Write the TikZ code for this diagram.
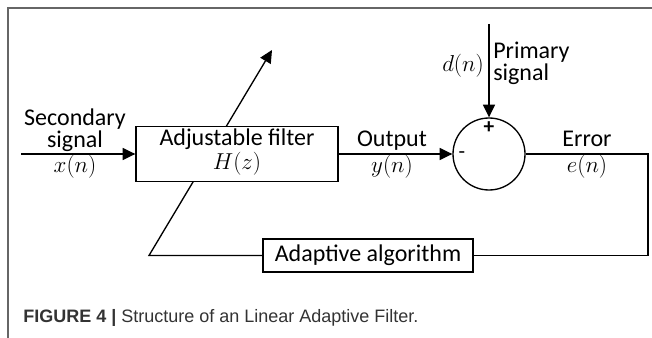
\documentclass[tikz,border=0pt]{standalone}
\usepackage{fontspec}
\setmainfont{Carlito}
\newfontfamily\capfont{Liberation Sans}
\usetikzlibrary{arrows.meta}
\pgfdeclarelayer{background}
\pgfsetlayers{background,main}
\begin{document}
\begin{tikzpicture}[x=0.75pt,y=-0.75pt,
  lbl/.style={font=\fontsize{18}{20}\selectfont, inner sep=0pt},
  mth/.style={font=\fontsize{16.5}{18}\selectfont, inner sep=0pt},
  blk/.style={draw, line width=1pt, fill=white, inner sep=0pt},
  conn/.style={line width=1pt},
  arr/.style={conn, -{Triangle[length=9.5pt,width=9pt]}},
  frame/.style={draw=black!60, line width=1.5pt}]
\useasboundingbox (0,0) rectangle (652,338);
% frame
\draw[frame] (8,338) -- (8,8) -- (652,8);
% blocks
\node[blk, minimum width=151.5pt, minimum height=41.25pt] (filt) at (237,154) {};
\node[blk, circle, minimum size=54pt] (sum) at (489,154) {};
\node[blk, minimum width=157.5pt, minimum height=24.75pt, lbl] (adapt) at (368,255.5) {Adaptive algorithm};
% coordinates
\coordinate (in) at (21,154);
\coordinate (top) at (489,24);
\coordinate (rc1) at (648,154);
\coordinate (rc2) at (648,255.5);
\coordinate (lc) at (149,255.5);
\coordinate (tip) at (272,50);
% connectors
\draw[arr] (in) -- (filt.west);
\draw[arr] (filt.east) -- (sum.west);
\draw[arr] (top) -- (sum.north);
\draw[conn] (sum.east) -- (rc1) -- (rc2) -- (adapt.east);
\begin{pgfonlayer}{background}
\draw[arr] (adapt.west) -- (lc) -- (tip);
\end{pgfonlayer}
% labels
\node[lbl, anchor=base, text depth=0pt] (sec1) at (75,126) {Secondary};
\node[lbl, anchor=base] (sec2) at (75,148) {signal};
\node[mth] (xn) at (75,167) {$x(n)$};
\node[lbl, anchor=base, text depth=0pt] (adj) at (237,146) {Adjustable filter};
\node[mth] (hz) at (237,164) {$H(z)$};
\node[lbl, anchor=base] (out) at (392,147) {Output};
\node[mth] (yn) at (392,167) {$y(n)$};
\node[lbl, anchor=base] (err) at (587,147) {Error};
\node[mth] (en) at (587,167) {$e(n)$};
\node[mth] (dn) at (463,66) {$d(n)$};
\node[lbl, anchor=base west, text depth=0pt] (pri1) at (493,59) {Primary};
\node[lbl, anchor=base west] (pri2) at (493,81) {signal};
\node[lbl, font=\fontsize{16}{16}\selectfont\bfseries] (plus) at (489,128) {+};
\node[lbl, font=\fontsize{16}{16}\selectfont] (minus) at (462,155) {-};
% caption
\node[inner sep=0pt, anchor=base west, font=\capfont\fontsize{13.5}{16}\selectfont, text=black!80] (cap) at (23,322)
  {\textbf{FIGURE 4 |} Structure of an Linear Adaptive Filter.};
\end{tikzpicture}
\end{document}
